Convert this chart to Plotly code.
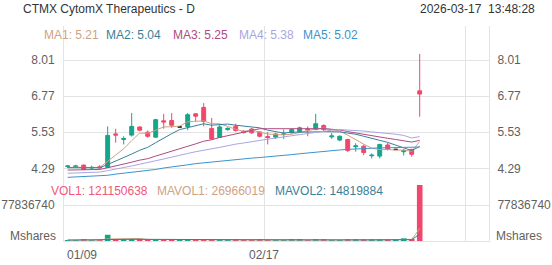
import plotly.graph_objects as go

# ---------------- data ----------------
opens = [4.35, 4.35, 4.40, 4.30, 4.34, 4.32, 5.47, 5.28, 5.43, 5.71,
         5.53, 5.36, 5.92, 5.93, 5.71, 5.72, 6.16, 6.38, 5.66, 5.35,
         5.62, 5.73, 5.56, 5.64, 5.54, 5.38, 5.36, 5.45, 5.51, 5.54,
         5.64, 5.62, 5.76, 5.37, 5.26, 5.28, 5.03, 5.05, 4.72, 4.71,
         5.09, 4.94, 4.86, 4.94, 6.95]
highs = [4.40, 4.41, 4.42, 4.38, 4.40, 5.73, 5.65, 5.39, 6.19, 5.73,
         5.59, 5.99, 6.16, 6.19, 5.73, 6.19, 6.19, 6.53, 6.02, 5.80,
         5.70, 5.82, 5.60, 5.67, 5.56, 5.54, 5.50, 5.62, 5.65, 5.72,
         5.73, 6.16, 5.80, 5.50, 5.42, 5.30, 5.15, 5.10, 4.80, 5.13,
         5.16, 4.96, 4.95, 4.96, 8.22]
lows = [4.30, 4.31, 4.23, 4.24, 4.26, 4.30, 5.17, 5.11, 5.38, 5.56,
        5.34, 5.34, 5.65, 5.68, 5.69, 5.60, 5.90, 5.73, 5.28, 5.33,
        5.58, 5.55, 5.48, 5.47, 5.35, 5.11, 5.30, 5.30, 5.48, 5.52,
        5.39, 5.60, 5.55, 5.30, 5.22, 4.85, 4.86, 4.74, 4.63, 4.63,
        4.90, 4.92, 4.73, 4.69, 6.06]
closes = [4.37, 4.37, 4.25, 4.32, 4.31, 5.42, 5.43, 5.31, 5.73, 5.60,
          5.39, 5.96, 5.88, 5.77, 5.71, 6.13, 6.08, 5.90, 5.30, 5.71,
          5.66, 5.59, 5.52, 5.51, 5.39, 5.35, 5.47, 5.47, 5.62, 5.68,
          5.61, 5.82, 5.62, 5.40, 5.39, 4.90, 5.06, 4.83, 4.74, 5.11,
          4.94, 4.94, 4.89, 4.77, 6.84]
volumes = [2.1e6, 1.8e6, 2.4e6, 1.6e6, 2.0e6, 13.5e6, 4.2e6, 3.1e6, 3.8e6, 2.6e6,
           2.9e6, 3.5e6, 2.8e6, 2.5e6, 1.9e6, 3.6e6, 2.7e6, 3.3e6, 3.9e6, 2.8e6,
           2.2e6, 2.4e6, 1.9e6, 2.1e6, 2.3e6, 2.0e6, 1.8e6, 1.7e6, 2.2e6, 2.4e6,
           1.9e6, 3.1e6, 2.3e6, 2.1e6, 1.9e6, 2.8e6, 2.5e6, 2.6e6, 2.2e6, 3.4e6,
           2.9e6, 2.6e6, 5.8e6, 3.0e6, 121150638]

ma1 = [4.31, 4.33, 4.32, 4.32, 4.32, 4.53, 4.75, 4.96, 5.24, 5.50,
       5.49, 5.60, 5.71, 5.72, 5.74, 5.89, 5.91, 5.92, 5.82, 5.82,
       5.73, 5.63, 5.56, 5.60, 5.53, 5.47, 5.45, 5.44, 5.46, 5.52,
       5.57, 5.64, 5.67, 5.63, 5.57, 5.43, 5.27, 5.12, 4.98, 4.93,
       4.94, 4.91, 4.92, 4.87, 5.21]
ma2 = [4.31, 4.31, 4.31, 4.31, 4.31, 4.42, 4.54, 4.64, 4.78, 4.91,
       5.01, 5.17, 5.34, 5.48, 5.62, 5.69, 5.76, 5.82, 5.77, 5.78,
       5.81, 5.77, 5.74, 5.71, 5.68, 5.60, 5.54, 5.50, 5.53, 5.53,
       5.52, 5.54, 5.55, 5.54, 5.54, 5.50, 5.46, 5.39, 5.31, 5.25,
       5.18, 5.09, 4.99, 4.90, 5.04]
ma3 = [4.23, 4.24, 4.24, 4.24, 4.25, 4.31, 4.37, 4.42, 4.50, 4.57,
       4.62, 4.71, 4.79, 4.87, 4.95, 5.04, 5.13, 5.22, 5.27, 5.35,
       5.41, 5.47, 5.54, 5.60, 5.65, 5.65, 5.65, 5.66, 5.65, 5.65,
       5.67, 5.66, 5.65, 5.63, 5.61, 5.55, 5.50, 5.45, 5.40, 5.36,
       5.32, 5.28, 5.24, 5.19, 5.25]
ma4 = [4.12, 4.13, 4.14, 4.15, 4.16, 4.21, 4.26, 4.30, 4.37, 4.43,
       4.48, 4.55, 4.61, 4.68, 4.73, 4.80, 4.86, 4.92, 4.96, 5.01,
       5.07, 5.12, 5.16, 5.21, 5.25, 5.29, 5.33, 5.37, 5.41, 5.46,
       5.50, 5.54, 5.57, 5.60, 5.62, 5.61, 5.59, 5.57, 5.54, 5.52,
       5.49, 5.46, 5.42, 5.33, 5.38]
ma5 = [3.98, 3.99, 4.00, 4.02, 4.03, 4.05, 4.09, 4.12, 4.15, 4.19,
       4.22, 4.25, 4.30, 4.33, 4.36, 4.41, 4.45, 4.48, 4.50, 4.53,
       4.56, 4.58, 4.61, 4.64, 4.66, 4.68, 4.71, 4.73, 4.76, 4.79,
       4.82, 4.85, 4.87, 4.90, 4.92, 4.94, 4.96, 4.97, 4.98, 4.99,
       5.00, 5.00, 5.01, 5.01, 5.02]
mavol1 = [2.0e6, 2.0e6, 2.1e6, 2.0e6, 2.0e6, 4.26e6, 4.74e6, 4.88e6, 5.32e6, 5.44e6,
          3.32e6, 3.18e6, 3.12e6, 2.86e6, 2.72e6, 2.86e6, 2.70e6, 2.80e6, 3.08e6, 3.26e6,
          2.98e6, 2.92e6, 2.64e6, 2.28e6, 2.18e6, 2.14e6, 2.02e6, 1.98e6, 2.00e6, 2.02e6,
          2.00e6, 2.26e6, 2.38e6, 2.36e6, 2.26e6, 2.44e6, 2.32e6, 2.38e6, 2.40e6, 2.70e6,
          2.72e6, 2.74e6, 3.38e6, 3.54e6, 26966019]
mavol2 = [2.0e6, 2.0e6, 2.0e6, 2.0e6, 2.0e6, 3.14e6, 3.36e6, 3.47e6, 3.65e6, 3.71e6,
          3.79e6, 3.96e6, 4.00e6, 4.09e6, 4.08e6, 3.09e6, 2.94e6, 2.96e6, 2.97e6, 2.99e6,
          2.92e6, 2.81e6, 2.72e6, 2.68e6, 2.72e6, 2.56e6, 2.47e6, 2.31e6, 2.14e6, 2.10e6,
          2.07e6, 2.14e6, 2.18e6, 2.18e6, 2.14e6, 2.22e6, 2.29e6, 2.38e6, 2.38e6, 2.48e6,
          2.58e6, 2.53e6, 2.88e6, 2.97e6, 14819884]

price_ticks = [4.29, 5.53, 6.77, 8.01]
vol_ticks = [77836740]
vol_tick_labels = ["77836740"]
x_labels = ["01/09", "02/17"]

title_text = "CTMX CytomX Therapeutics - D"
date_text = "2026-03-17\u00a0\u00a013:48:28"
ma_legend = [("MA1", "5.21"), ("MA2", "5.04"), ("MA3", "5.25"), ("MA4", "5.38"), ("MA5", "5.02")]
vol_legend = [("VOL1", "121150638"), ("MAVOL1", "26966019"), ("MAVOL2", "14819884")]

# ---------------- styling / layout constants ----------------
W, H = 552, 265
L, R = 64, 489          # plot area left/right in px
TOP, MID, BOT = 26, 181, 241
UP = "#14a58a"
DOWN = "#f2476d"
GRID = "#e3e3e3"
LABEL = "#5f5f5f"
FONT = "Liberation Sans, Arial, sans-serif"
MA_COLORS = ["#cfa283", "#3a7f98", "#b04a80", "#a9a6e2", "#3d93cc"]
VOL_COLORS = ["#f2577a", "#cfa283", "#3a7f98"]

def yp(p):
    return 1 - p / H

def xp(p):
    return (p - L) / (R - L)

n = len(closes)
idx = list(range(n))

x_range = [-0.46, 52.66]
x_grid = [-0.46, 24.54, 49.66]

up_i = [i for i in idx if closes[i] > opens[i]]
dn_i = [i for i in idx if closes[i] < opens[i]]
fl_i = [i for i in idx if closes[i] == opens[i]]

def sub(arr, ids):
    return [arr[i] for i in ids]

fig = go.Figure()

for ids, col in ((up_i, UP), (dn_i, DOWN), (fl_i, "#222222")):
    fig.add_trace(go.Candlestick(
        x=ids, open=sub(opens, ids), high=sub(highs, ids), low=sub(lows, ids), close=sub(closes, ids),
        increasing=dict(line=dict(color=col, width=1), fillcolor=col),
        decreasing=dict(line=dict(color=col, width=1), fillcolor=col),
        whiskerwidth=0, xaxis="x", yaxis="y", hoverinfo="skip"))

# moving-average lines drawn on the right-hand price axis (same range)
for ma, col in zip([ma1, ma2, ma3, ma4, ma5], MA_COLORS):
    fig.add_trace(go.Scatter(x=idx, y=ma, mode="lines", line=dict(color=col, width=1),
                             xaxis="x", yaxis="y3", hoverinfo="skip"))

vol_cols = [UP if closes[i] >= opens[i] else DOWN for i in idx]
fig.add_trace(go.Bar(x=idx, y=volumes, marker=dict(color=vol_cols, line=dict(width=0)),
                     width=0.7, xaxis="x2", yaxis="y2", hoverinfo="skip"))
fig.add_trace(go.Scatter(x=idx, y=mavol1, mode="lines", line=dict(color=VOL_COLORS[1], width=1),
                         xaxis="x2", yaxis="y4", hoverinfo="skip"))
fig.add_trace(go.Scatter(x=idx, y=mavol2, mode="lines", line=dict(color=VOL_COLORS[2], width=1),
                         xaxis="x2", yaxis="y4", hoverinfo="skip"))

ppx = (price_ticks[-1] - price_ticks[0]) / (168.3 - 60.0)
p_rng = [price_ticks[0] - (MID - 168.3) * ppx, price_ticks[-1] + (60.0 - TOP) * ppx]
vpx = vol_ticks[0] / (BOT - 205.0)
v_rng = [0, (BOT - MID) * vpx]

tickfont = dict(family=FONT, size=12, color=LABEL)
xcommon = dict(range=x_range, tickmode="array", tickvals=x_grid, showticklabels=False,
               showgrid=True, gridcolor=GRID, gridwidth=1, zeroline=False, ticks="",
               fixedrange=True)

fig.update_layout(
    width=W, height=H, autosize=False,
    margin=dict(l=L, r=W - R, t=0, b=0, pad=0),
    paper_bgcolor="white", plot_bgcolor="white",
    showlegend=False, hovermode=False,
    font=dict(family=FONT, size=12, color=LABEL),
    xaxis=dict(domain=[0, 1], anchor="y", rangeslider=dict(visible=False), showline=False, **xcommon),
    xaxis2=dict(domain=[0, 1], anchor="y2", showline=True, linecolor=GRID, linewidth=1, **xcommon),
    yaxis=dict(domain=[yp(MID), yp(TOP)], range=p_rng, tickmode="array", tickvals=price_ticks,
               ticktext=[f"{v:.2f}" for v in price_ticks], showgrid=True, gridcolor=GRID,
               zeroline=False, showline=True, linecolor=GRID, ticks="", tickfont=tickfont,
               ticklabelstandoff=6, fixedrange=True),
    yaxis3=dict(overlaying="y", side="right", anchor="x", range=p_rng, tickmode="array",
                tickvals=price_ticks, ticktext=[f"{v:.2f}" for v in price_ticks], showgrid=False,
                zeroline=False, showline=True, linecolor=GRID, ticks="", tickfont=tickfont,
                ticklabelstandoff=5, fixedrange=True),
    yaxis2=dict(domain=[yp(BOT), yp(MID)], range=v_rng, tickmode="array", tickvals=vol_ticks,
                ticktext=vol_tick_labels, showgrid=True, gridcolor=GRID, zeroline=False,
                showline=True, linecolor=GRID, ticks="", tickfont=tickfont,
                ticklabelstandoff=6, fixedrange=True),
    yaxis4=dict(overlaying="y2", side="right", anchor="x2", range=v_rng, tickmode="array",
                tickvals=vol_ticks, ticktext=vol_tick_labels, showgrid=False, zeroline=False,
                showline=True, linecolor=GRID, ticks="", tickfont=tickfont,
                ticklabelstandoff=5, fixedrange=True),
)

ann = []
def text(x, y, s, color, anchor="left", size=12, xref="paper"):
    ann.append(dict(x=x, y=y, xref=xref, yref="paper", text=s, showarrow=False,
                    xanchor=anchor, yanchor="middle",
                    font=dict(family=FONT, size=size, color=color)))

text(xp(21), yp(9), title_text, "#333333")
text(xp(537), yp(9), date_text, "#333333", anchor="right")

ma_x = [42, 104, 171, 237, 301]
for (name, val), col, x0 in zip(ma_legend, MA_COLORS, ma_x):
    text(xp(x0), yp(35), f"{name}: {val}", col)

vol_x = [49, 155, 273]
for (name, val), col, x0 in zip(vol_legend, VOL_COLORS, vol_x):
    text(xp(x0), yp(191), f"{name}: {val}", col)

text(xp(58), yp(236), "Mshares", LABEL, anchor="right")
text(xp(494), yp(236), "Mshares", LABEL, anchor="left")

text(x_grid[0] + 0.1, yp(255), x_labels[0], LABEL, anchor="left", xref="x")
text(x_grid[1], yp(255), x_labels[1], LABEL, anchor="center", xref="x")

fig.update_layout(annotations=ann)

fig.write_html("out.html")
